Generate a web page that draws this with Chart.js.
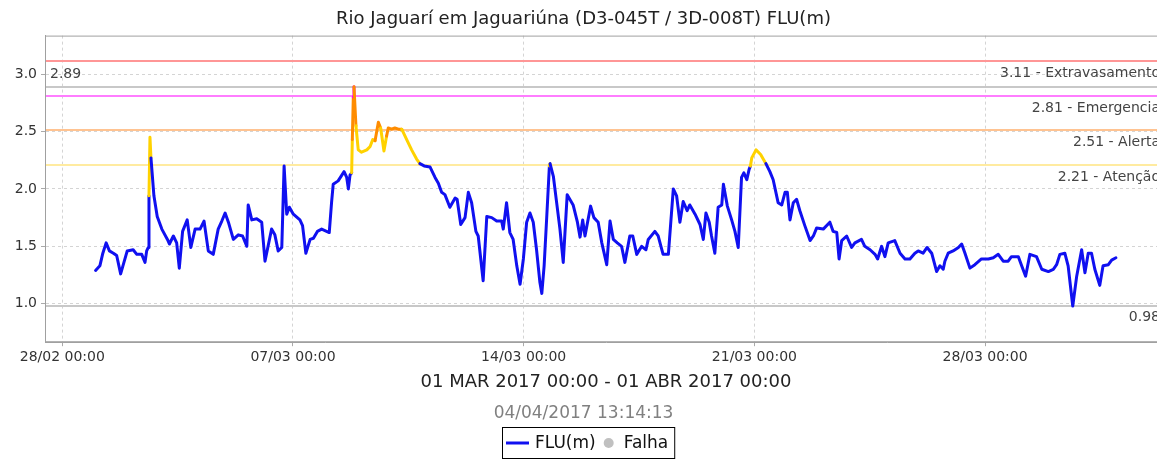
<!DOCTYPE html>
<html>
<head>
<meta charset="utf-8">
<script src="https://cdn.jsdelivr.net/npm/chart.js@4/dist/chart.umd.min.js"></script>
<style>
  body { margin: 0; overflow: hidden; background: #fff; }
  #wrap { width: 1176px; height: 459px; }
</style>
</head>
<body>
<div id="wrap"><canvas id="flu-chart" width="1176" height="459"></canvas></div>
<script>
// dias contados a partir de 28/02 00:00
const dayOffsets = [
  1.01, 1.14, 1.23, 1.33, 1.43, 1.55, 1.65, 1.77, 1.87, 1.97, 2.15, 2.26, 2.41, 2.51, 2.56, 2.61,
  2.63, 2.66, 2.69, 2.78, 2.88, 3.02, 3.19, 3.25, 3.37, 3.47, 3.55, 3.65, 3.79, 3.90, 4.03, 4.18,
  4.30, 4.43, 4.58, 4.73, 4.84, 4.94, 5.04, 5.19, 5.34, 5.47, 5.60, 5.64, 5.75, 5.90, 6.05, 6.15,
  6.35, 6.45, 6.55, 6.66, 6.73, 6.81, 6.89, 7.01, 7.21, 7.29, 7.39, 7.52, 7.62, 7.74, 7.87, 8.10,
  8.17, 8.22, 8.37, 8.55, 8.63, 8.68, 8.73, 8.78, 8.80, 8.83, 8.85, 8.87, 8.91, 8.98, 9.08, 9.24,
  9.34, 9.42, 9.49, 9.59, 9.66, 9.76, 9.84, 9.89, 9.99, 10.09, 10.20, 10.30, 10.45, 10.60, 10.75, 10.85,
  10.98, 11.16, 11.31, 11.41, 11.51, 11.61, 11.76, 11.92, 11.98, 12.09, 12.22, 12.32, 12.42, 12.55, 12.62, 12.77,
  12.88, 13.03, 13.18, 13.33, 13.38, 13.48, 13.58, 13.68, 13.79, 13.89, 13.99, 14.09, 14.19, 14.29, 14.39, 14.49,
  14.55, 14.62, 14.70, 14.78, 14.80, 14.90, 15.00, 15.10, 15.20, 15.32, 15.50, 15.63, 15.71, 15.79, 15.86, 16.03,
  16.13, 16.26, 16.37, 16.52, 16.62, 16.72, 16.84, 16.97, 17.07, 17.22, 17.31, 17.43, 17.58, 17.71, 17.78, 17.98,
  18.08, 18.23, 18.39, 18.54, 18.64, 18.74, 18.84, 18.96, 19.04, 19.20, 19.35, 19.45, 19.53, 19.63, 19.70, 19.80,
  19.90, 20.01, 20.06, 20.18, 20.31, 20.41, 20.51, 20.61, 20.68, 20.77, 20.84, 20.88, 20.92, 21.05, 21.19, 21.35,
  21.47, 21.57, 21.72, 21.83, 21.93, 22.00, 22.08, 22.18, 22.28, 22.38, 22.53, 22.69, 22.79, 22.89, 23.09, 23.29,
  23.39, 23.50, 23.57, 23.65, 23.80, 23.95, 24.05, 24.25, 24.35, 24.51, 24.66, 24.74, 24.86, 24.96, 25.06, 25.26,
  25.42, 25.57, 25.72, 25.87, 25.97, 26.12, 26.24, 26.38, 26.53, 26.63, 26.73, 26.78, 26.88, 27.03, 27.19, 27.29,
  27.39, 27.54, 27.69, 27.89, 28.10, 28.25, 28.40, 28.55, 28.70, 28.80, 29.01, 29.11, 29.23, 29.36, 29.56, 29.72,
  29.92, 30.07, 30.17, 30.27, 30.42, 30.52, 30.66, 30.78, 30.93, 31.03, 31.13, 31.23, 31.33, 31.48, 31.58, 31.74,
  31.84, 31.97
];
const fluLevels = [
  1.29, 1.33, 1.44, 1.53, 1.46, 1.44, 1.42, 1.26, 1.36, 1.46, 1.47, 1.43, 1.43, 1.36, 1.46, 1.49,
  1.94, 2.45, 2.27, 1.94, 1.76, 1.65, 1.56, 1.52, 1.59, 1.53, 1.31, 1.63, 1.73, 1.49, 1.65, 1.65,
  1.72, 1.46, 1.43, 1.65, 1.72, 1.79, 1.71, 1.56, 1.60, 1.59, 1.50, 1.86, 1.73, 1.74, 1.71, 1.37,
  1.65, 1.60, 1.46, 1.49, 2.20, 1.78, 1.84, 1.78, 1.73, 1.68, 1.44, 1.56, 1.57, 1.63, 1.65, 1.62,
  1.88, 2.04, 2.07, 2.15, 2.10, 2.00, 2.12, 2.14, 2.43, 2.80, 2.89, 2.78, 2.55, 2.34, 2.32, 2.34,
  2.37, 2.43, 2.42, 2.58, 2.53, 2.33, 2.46, 2.53, 2.52, 2.53, 2.52, 2.52, 2.43, 2.34, 2.26, 2.22,
  2.20, 2.19, 2.10, 2.05, 1.97, 1.95, 1.84, 1.92, 1.91, 1.69, 1.75, 1.97, 1.88, 1.63, 1.59, 1.20,
  1.76, 1.75, 1.72, 1.72, 1.65, 1.88, 1.62, 1.56, 1.33, 1.17, 1.39, 1.71, 1.79, 1.71, 1.47, 1.19,
  1.09, 1.33, 1.76, 2.20, 2.22, 2.11, 1.88, 1.65, 1.36, 1.95, 1.86, 1.71, 1.58, 1.73, 1.59, 1.85,
  1.75, 1.71, 1.53, 1.34, 1.72, 1.56, 1.53, 1.50, 1.36, 1.59, 1.59, 1.43, 1.50, 1.47, 1.56, 1.63,
  1.59, 1.43, 1.43, 2.00, 1.94, 1.71, 1.89, 1.81, 1.86, 1.78, 1.69, 1.56, 1.79, 1.71, 1.59, 1.44,
  1.84, 1.86, 2.04, 1.85, 1.73, 1.63, 1.49, 2.10, 2.14, 2.08, 2.17, 2.20, 2.27, 2.34, 2.30, 2.22,
  2.15, 2.08, 1.88, 1.86, 1.97, 1.97, 1.73, 1.88, 1.91, 1.81, 1.68, 1.55, 1.59, 1.66, 1.65, 1.71,
  1.63, 1.62, 1.39, 1.55, 1.59, 1.49, 1.53, 1.56, 1.50, 1.47, 1.43, 1.39, 1.50, 1.41, 1.53, 1.55,
  1.44, 1.39, 1.39, 1.44, 1.46, 1.44, 1.49, 1.44, 1.28, 1.33, 1.30, 1.37, 1.44, 1.46, 1.49, 1.52,
  1.44, 1.31, 1.34, 1.39, 1.39, 1.40, 1.43, 1.37, 1.37, 1.41, 1.41, 1.33, 1.24, 1.43, 1.41, 1.30,
  1.28, 1.30, 1.34, 1.43, 1.44, 1.33, 0.98, 1.24, 1.47, 1.27, 1.44, 1.44, 1.30, 1.16, 1.33, 1.34,
  1.38, 1.40
];

// cotas de referência
const levelValues = [3.11, 2.81, 2.51, 2.21];
const levelNames = ['Extravasamento', 'Emergencia', 'Alerta', 'Atenção'];
const levelLineColors = ['rgb(255,150,150)', 'rgb(255,125,255)', 'rgb(255,195,145)', 'rgb(255,235,160)'];
const levelSeriesColors = ['#ff00ff', '#ff00ff', '#ff8c00', '#ffd200'];
const normalColor = '#1010f0';

const xTickDays = [0, 7, 14, 21, 28];
const xTickLabels = ['28/02 00:00', '07/03 00:00', '14/03 00:00', '21/03 00:00', '28/03 00:00'];
const yTickValues = [1.0, 1.5, 2.0, 2.5, 3.0];

const maxLevel = Math.max(...fluLevels);
const minLevel = Math.min(...fluLevels);

function colorForLevel(v) {
  for (let i = 0; i < levelValues.length; i++) {
    if (v >= levelValues[i]) return levelSeriesColors[i];
  }
  return normalColor;
}

const FONT = '"DejaVu Sans", sans-serif';

// linhas de cota, max/min e moldura da área do gráfico
const levelLines = {
  id: "levelLines",
  beforeDatasetsDraw(chart) {
    const { ctx, chartArea: a, scales } = chart;
    const y = scales.y;
    ctx.save();
    ctx.lineWidth = 2;
    ctx.font = "14px " + FONT;
    ctx.fillStyle = "#444";
    ctx.textBaseline = "middle";

    const hline = (v, color) => {
      const py = Math.round(y.getPixelForValue(v));
      ctx.strokeStyle = color;
      ctx.beginPath();
      ctx.moveTo(a.left, py);
      ctx.lineTo(a.right, py);
      ctx.stroke();
      return py;
    };

    levelValues.forEach((v, i) => {
      const py = hline(v, levelLineColors[i]);
      ctx.textAlign = "right";
      ctx.fillText(v.toFixed(2) + " - " + levelNames[i], a.right - 7, py + 12);
    });

    let py = hline(maxLevel, "#c8c8c8");
    ctx.textAlign = "left";
    ctx.fillText(maxLevel.toFixed(2), a.left + 5, py - 13);

    py = hline(minLevel, "#c8c8c8");
    ctx.textAlign = "right";
    ctx.fillText(minLevel.toFixed(2), a.right - 7, py + 11);

    // moldura
    ctx.lineWidth = 1;
    ctx.strokeStyle = "#a0a0a0";
    ctx.strokeRect(a.left + 0.5, a.top + 0.5, a.width - 1, a.height - 1);
    ctx.restore();
  },
};

// legenda com caixa
const boxLegend = {
  id: "boxLegend",
  afterDraw(chart) {
    const ctx = chart.ctx;
    const [flu, falha] = chart.data.datasets;
    ctx.save();
    ctx.font = "17px " + FONT;
    const w1 = ctx.measureText(flu.label).width;
    const w2 = ctx.measureText(falha.label).width;
    const total = 4 + 23 + 6 + w1 + 8 + 10 + 10 + w2 + 6;
    const left = Math.round(chart.width / 2 - total / 2);
    const top = chart.height - 32;
    const cy = top + 16;

    ctx.strokeStyle = "#000";
    ctx.lineWidth = 1;
    ctx.strokeRect(left + 0.5, top + 0.5, total, 31);

    let x = left + 4;
    ctx.strokeStyle = flu.borderColor;
    ctx.lineWidth = 3;
    ctx.beginPath();
    ctx.moveTo(x, cy);
    ctx.lineTo(x + 23, cy);
    ctx.stroke();
    x += 29;

    ctx.fillStyle = "#111";
    ctx.textBaseline = "middle";
    ctx.fillText(flu.label, x, cy + 1);
    x += w1 + 8;

    ctx.fillStyle = falha.pointBackgroundColor;
    ctx.beginPath();
    ctx.arc(x + 5, cy, 5, 0, Math.PI * 2);
    ctx.fill();
    x += 20;

    ctx.fillStyle = "#111";
    ctx.fillText(falha.label, x, cy + 1);
    ctx.restore();
  },
};

new Chart(document.getElementById("flu-chart"), {
  type: "line",
  data: {
    datasets: [
      {
        label: "FLU(m)",
        data: dayOffsets.map((d, i) => ({ x: d, y: fluLevels[i] })),
        borderColor: normalColor,
        borderWidth: 3,
        borderJoinStyle: "round",
        borderCapStyle: "round",
        pointRadius: 0,
        tension: 0,
        segment: {
          borderColor: (c) => colorForLevel(c.p1.parsed.y),
        },
      },
      {
        label: "Falha",
        data: [],
        pointBackgroundColor: "#c0c0c0",
        borderColor: "#c0c0c0",
        showLine: false,
      },
    ],
  },
  options: {
    responsive: false,
    animation: false,
    layout: { padding: { left: 0, right: 9, top: 0, bottom: 34 } },
    plugins: {
      legend: { display: false },
      tooltip: { enabled: false },
      title: {
        display: true,
        text: "Rio Jaguarí em Jaguariúna (D3-045T / 3D-008T) FLU(m)",
        color: "#222",
        font: { family: FONT, size: 18, weight: "normal" },
        padding: { top: 9, bottom: 5 },
      },
      subtitle: {
        display: true,
        position: "bottom",
        text: "04/04/2017 13:14:13",
        color: "#808080",
        font: { family: FONT, size: 17 },
        padding: { top: 8, bottom: 1 },
      },
    },
    scales: {
      x: {
        type: "linear",
        min: -0.525,
        max: 33.52,
        afterBuildTicks: (s) => {
          s.ticks = xTickDays.map((v) => ({ value: v }));
        },
        ticks: {
          color: "#333",
          font: { family: FONT, size: 14 },
          padding: 3,
          maxRotation: 0,
          autoSkip: false,
          callback: (v) => xTickLabels[xTickDays.indexOf(v)],
        },
        grid: { color: "#d4d4d4", tickLength: 4, tickColor: "#aaa" },
        border: { color: "#a0a0a0", dash: [3, 3] },
        title: {
          display: true,
          text: "01 MAR 2017 00:00 - 01 ABR 2017 00:00",
          color: "#222",
          font: { family: FONT, size: 18 },
          padding: { top: 3, bottom: 2 },
        },
      },
      y: {
        min: 0.665,
        max: 3.335,
        afterBuildTicks: (s) => {
          s.ticks = yTickValues.map((v) => ({ value: v }));
        },
        afterFit: (s) => {
          s.width = 45;
        },
        ticks: {
          color: "#333",
          font: { family: FONT, size: 14 },
          padding: 4,
          callback: (v) => v.toFixed(1),
        },
        grid: { color: "#d4d4d4", tickLength: 4, tickColor: "#aaa" },
        border: { color: "#a0a0a0", dash: [3, 3] },
      },
    },
  },
  plugins: [levelLines, boxLegend],
});
</script>
</body>
</html>
